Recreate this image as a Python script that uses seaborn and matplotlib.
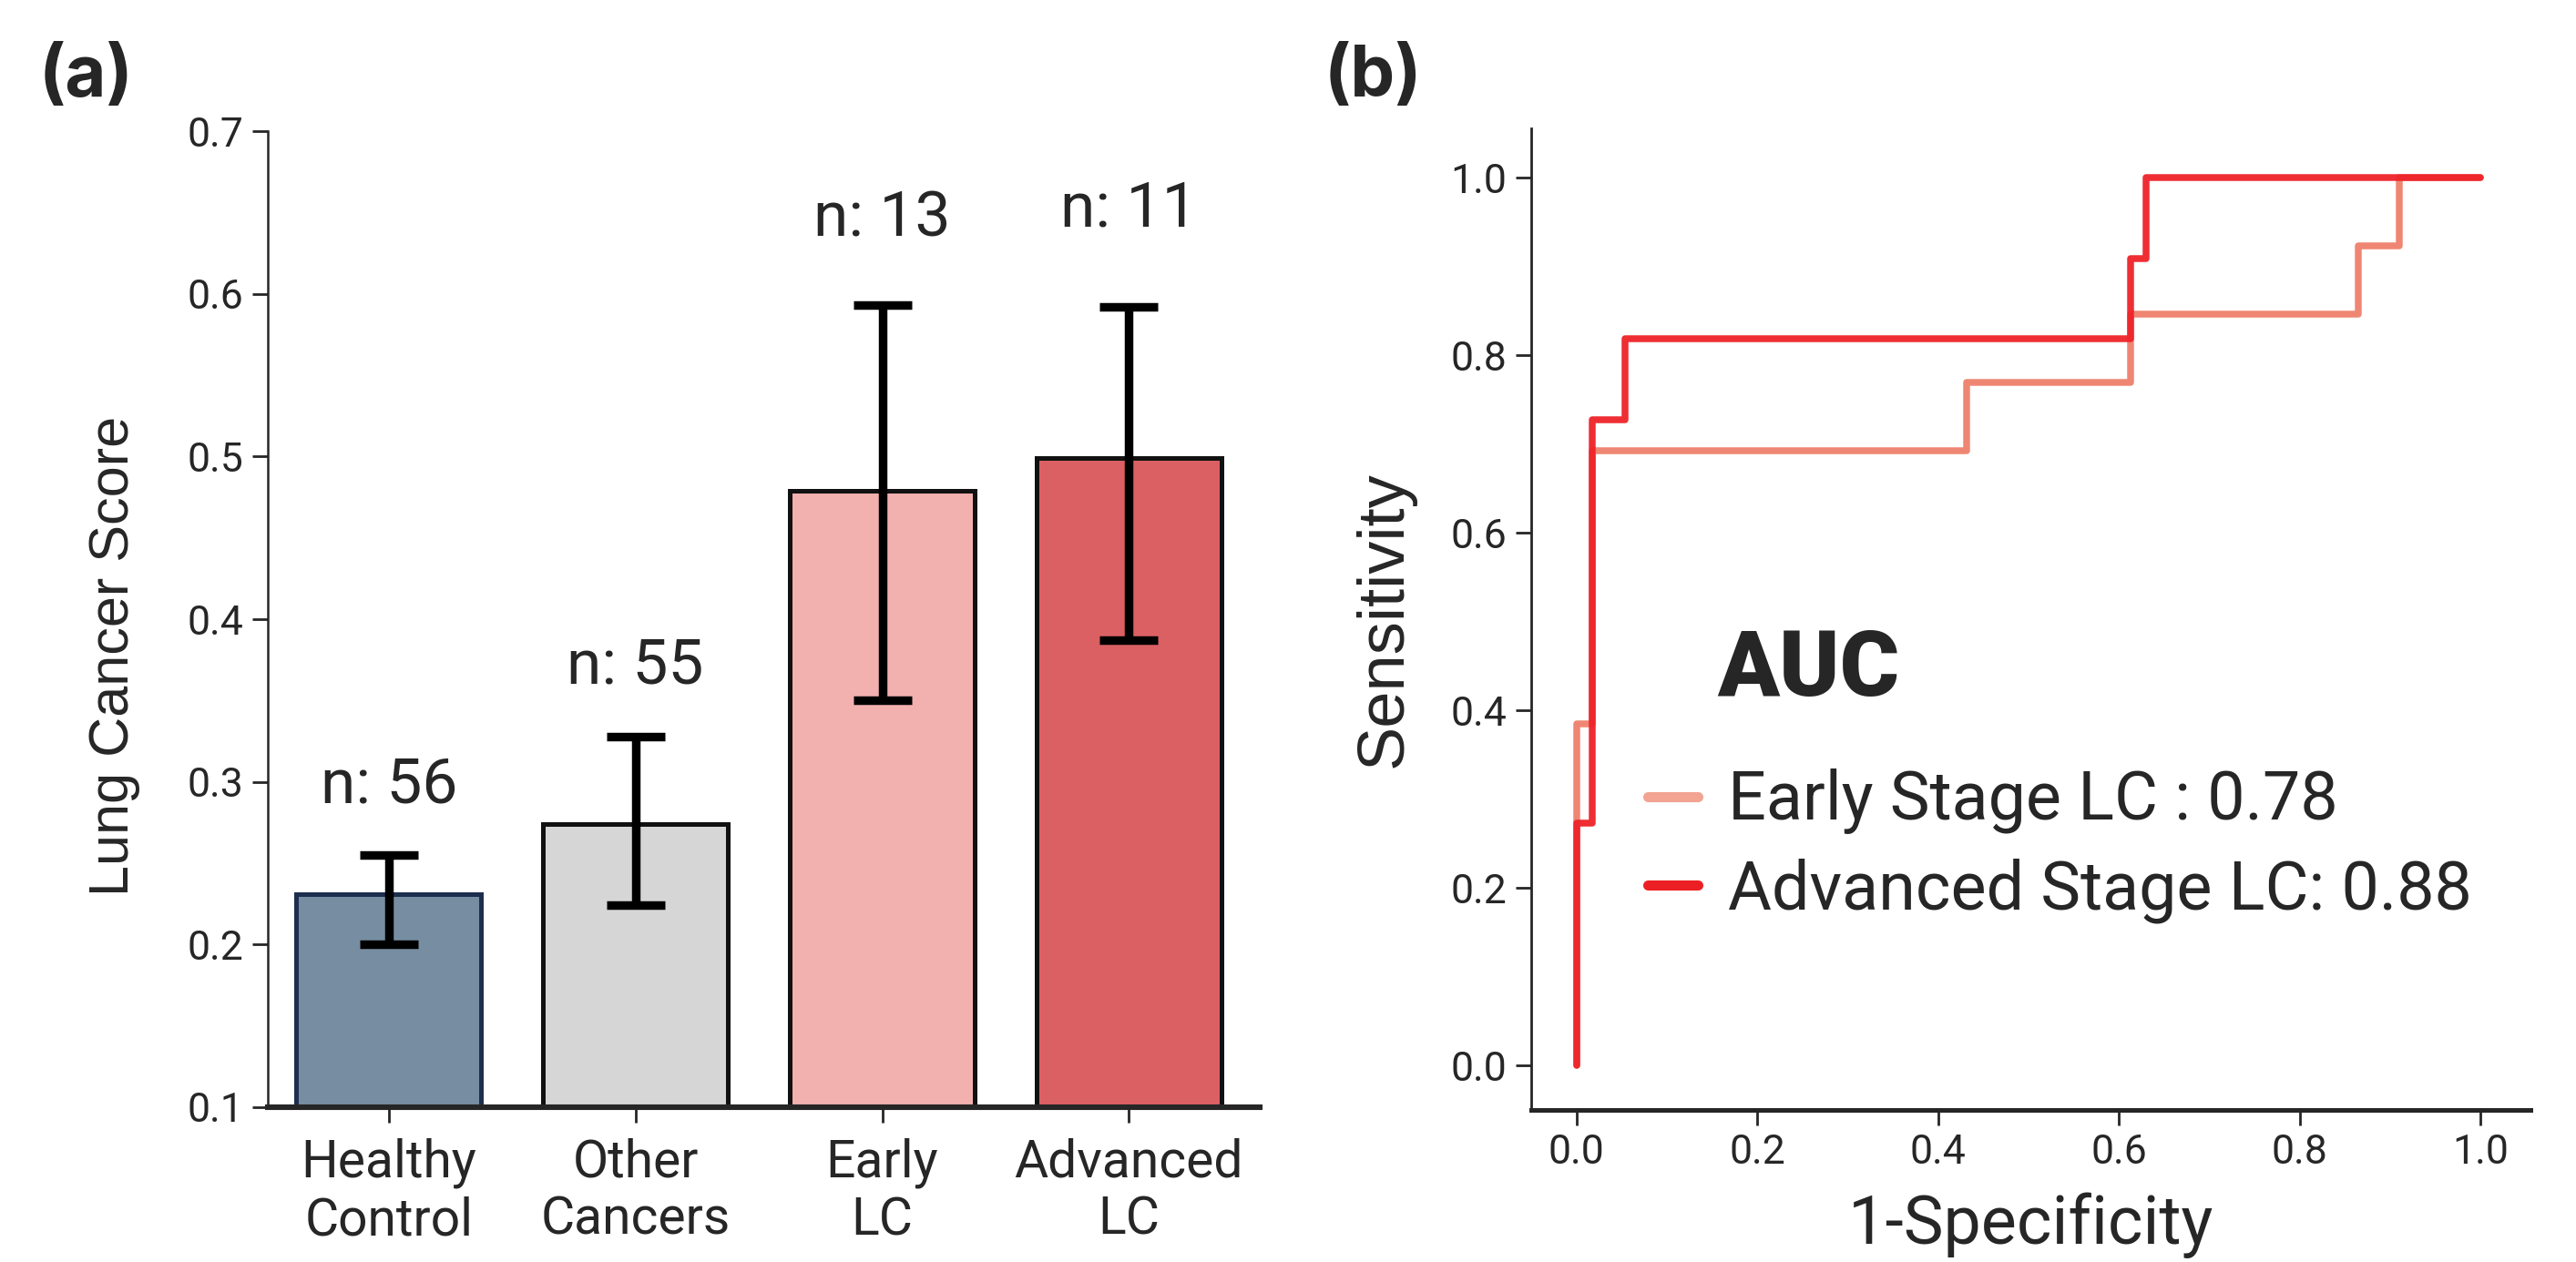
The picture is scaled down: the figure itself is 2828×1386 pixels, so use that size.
import numpy as np
import pandas as pd
import matplotlib
matplotlib.use("Agg")
import matplotlib.pyplot as plt
from matplotlib.lines import Line2D
import seaborn as sns

# ---------------- data ----------------
categories = ["Healthy\nControl", "Other\nCancers", "Early\nLC", "Advanced\nLC"]
scores = [0.231, 0.274, 0.479, 0.499]
err_low = [0.200, 0.224, 0.350, 0.387]
err_high = [0.255, 0.328, 0.593, 0.592]
n_labels = ["n: 56", "n: 55", "n: 13", "n: 11"]
n_label_y = [0.298, 0.371, 0.646, 0.652]
bar_colors = ["#778da2", "#d7d6d7", "#f2b0ae", "#db6063"]
bar_edges = ["#1d2f4e", "#111111", "#111111", "#111111"]

early_fpr = [0.0, 0.0, 0.018, 0.018, 0.432, 0.432, 0.613, 0.613, 0.865, 0.865, 0.910, 0.910, 1.0]
early_tpr = [0.0, 0.385, 0.385, 0.692, 0.692, 0.769, 0.769, 0.846, 0.846, 0.923, 0.923, 1.0, 1.0]
adv_fpr = [0.0, 0.0, 0.018, 0.018, 0.054, 0.054, 0.613, 0.613, 0.630, 0.630, 1.0]
adv_tpr = [0.0, 0.273, 0.273, 0.727, 0.727, 0.818, 0.818, 0.909, 0.909, 1.0, 1.0]
legend_labels = ["Early Stage LC : 0.78", "Advanced Stage LC: 0.88"]
line_colors = ["#ef806b", "#ee2228"]
legend_colors = ["#f2a391", "#ec2024"]

yticks_a = [0.1, 0.2, 0.3, 0.4, 0.5, 0.6, 0.7]
ticks_b = [0.0, 0.2, 0.4, 0.6, 0.8, 1.0]

# ---------------- style ----------------
sns.set_theme(style="ticks")
plt.rcParams["font.family"] = ["Roboto", "DejaVu Sans"]
plt.rcParams["axes.linewidth"] = 1.0

fig = plt.figure(figsize=(14.14, 6.93), dpi=200)
ax1 = fig.add_axes([0.104, 0.1227, 0.385, 0.7733])
ax2 = fig.add_axes([0.5944, 0.1205, 0.3879, 0.7775])

# ---------------- panel (a) ----------------
df = pd.DataFrame({"cat": categories, "score": scores})
sns.barplot(data=df, x="cat", y="score", hue="cat", palette=bar_colors,
            legend=False, width=0.75, ax=ax1, errorbar=None, saturation=1)
for p, ec in zip(ax1.patches, bar_edges):
    p.set_edgecolor(ec)
    p.set_linewidth(1.8)
xs = np.arange(len(categories))
yerr = np.array([np.array(scores) - np.array(err_low), np.array(err_high) - np.array(scores)])
ax1.errorbar(xs, scores, yerr=yerr, fmt="none", ecolor="black",
             elinewidth=3.4, capsize=11.5, capthick=3.4, zorder=5)
for x, lab, y in zip(xs, n_labels, n_label_y):
    ax1.text(x, y, lab, ha="center", va="center", fontsize=25)

ax1.set_ylim(0.1, 0.7)
ax1.set_xlim(-0.49, 3.53)
ax1.set_yticks(yticks_a)
ax1.set_yticklabels([f"{t:.1f}" for t in yticks_a])
ax1.tick_params(axis="y", labelsize=16, length=6, width=1.0)
ax1.tick_params(axis="x", labelsize=20.5, length=6, width=1.0, pad=6)
ax1.set_xlabel("")
ax1.set_ylabel("Lung Cancer Score", fontsize=22, family=["Liberation Sans", "DejaVu Sans"])
ax1.yaxis.set_label_coords(-0.129, 0.462)
sns.despine(ax=ax1)
ax1.spines["bottom"].set_linewidth(2.2)
ax1.spines["left"].set_linewidth(0.9)

# ---------------- panel (b) ----------------
roc_early = pd.DataFrame({"fpr": early_fpr, "tpr": early_tpr})
roc_adv = pd.DataFrame({"fpr": adv_fpr, "tpr": adv_tpr})
sns.lineplot(data=roc_early, x="fpr", y="tpr", sort=False, estimator=None,
             color=line_colors[0], linewidth=2.7, alpha=0.95, ax=ax2)
sns.lineplot(data=roc_adv, x="fpr", y="tpr", sort=False, estimator=None,
             color=line_colors[1], linewidth=2.7, alpha=0.95, ax=ax2)
ax2.set_xlim(-0.05, 1.055)
ax2.set_ylim(-0.05, 1.055)
ax2.set_xticks(ticks_b)
ax2.set_xticklabels([f"{t:.1f}" for t in ticks_b])
ax2.set_yticks(ticks_b)
ax2.set_yticklabels([f"{t:.1f}" for t in ticks_b])
ax2.tick_params(axis="both", labelsize=16, length=6, width=1.0)
ax2.set_xlabel("1-Specificity", fontsize=26.5, labelpad=8)
ax2.set_ylabel("Sensitivity", fontsize=26, family=["Liberation Sans", "DejaVu Sans"], labelpad=14)
sns.despine(ax=ax2)
ax2.spines["bottom"].set_linewidth(1.8)
ax2.spines["left"].set_linewidth(1.0)

handles = [Line2D([0], [0], color=c, linewidth=4) for c in legend_colors]
ax2.legend(handles, legend_labels, loc="center left", bbox_to_anchor=(0.1167, 0.269),
           frameon=False, fontsize=26.5, handlelength=0.75, handletextpad=0.45,
           labelspacing=0.35, borderpad=0, borderaxespad=0)
ax2.text(0.186, 0.448, "AUC", transform=ax2.transAxes, ha="left", va="center",
         fontsize=36, fontweight="black")

# panel labels
fig.text(0.0152, 0.939, "(a)", fontsize=28, fontweight="bold", ha="left", va="center",
         family=["Inter", "DejaVu Sans"])
fig.text(0.514, 0.939, "(b)", fontsize=28, fontweight="bold", ha="left", va="center",
         family=["Inter", "DejaVu Sans"])

fig.savefig("out.png", dpi=200, facecolor="white")
